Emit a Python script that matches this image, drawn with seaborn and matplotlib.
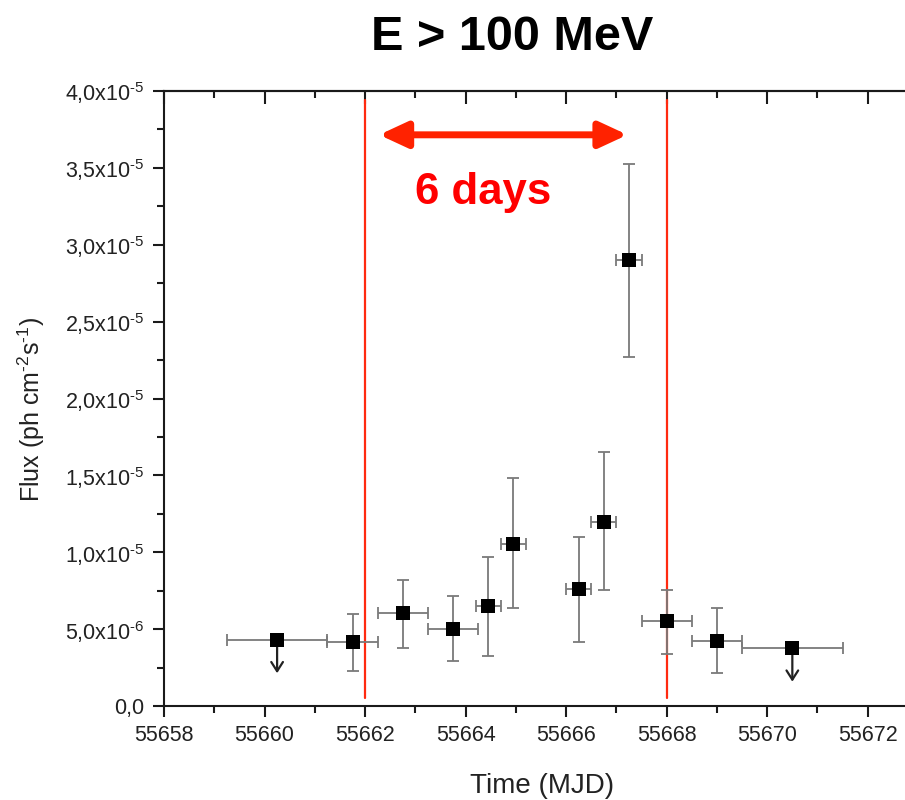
import numpy as np
import pandas as pd
import matplotlib
matplotlib.use("Agg")
import matplotlib.pyplot as plt
import seaborn as sns
from matplotlib.ticker import MultipleLocator, FixedLocator

# ---------------- data ----------------
time = [55660.25, 55661.75, 55662.75, 55663.75, 55664.45, 55664.95,
        55666.25, 55666.75, 55667.25, 55668.0, 55669.0, 55670.5]
flux = [4.3e-6, 4.15e-6, 6.05e-6, 5.0e-6, 6.5e-6, 1.055e-5,
        7.6e-6, 1.2e-5, 2.9e-5, 5.5e-6, 4.2e-6, 3.75e-6]
time_err = [1.0, 0.5, 0.5, 0.5, 0.25, 0.25, 0.25, 0.25, 0.25, 0.5, 0.5, 1.0]
flux_hi = [np.nan, 6.0e-6, 8.2e-6, 7.15e-6, 9.7e-6, 1.48e-5,
           1.10e-5, 1.65e-5, 3.525e-5, 7.55e-6, 6.35e-6, np.nan]
flux_lo = [np.nan, 2.3e-6, 3.75e-6, 2.95e-6, 3.25e-6, 6.35e-6,
           4.15e-6, 7.55e-6, 2.27e-5, 3.4e-6, 2.15e-6, np.nan]
upper_limit = [True, False, False, False, False, False,
               False, False, False, False, False, True]

window_start, window_end = 55662.0, 55668.0
window_ymin, window_ymax = 0.05e-5, 3.94e-5
arrow_x = [55662.28, 55667.22]
arrow_y = 3.715e-5
arrow_label = "6 days"
label_pos = (55664.35, 3.34e-5)

title = "E > 100 MeV"
xlabel = "Time (MJD)"
ylabel = "Flux (ph cm$^{\u2010 2}$s$^{\u2010 1}$)"
ytick_vals = [0, 5e-6, 1e-5, 1.5e-5, 2e-5, 2.5e-5, 3e-5, 3.5e-5, 4e-5]
ytick_labels = ["0,0", "5,0x10$^{\u20106}$", "1,0x10$^{\u20105}$", "1,5x10$^{\u20105}$",
                "2,0x10$^{\u20105}$", "2,5x10$^{\u20105}$", "3,0x10$^{\u20105}$",
                "3,5x10$^{\u20105}$", "4,0x10$^{\u20105}$"]
xticks = [55658, 55660, 55662, 55664, 55666, 55668, 55670, 55672]

df = pd.DataFrame(dict(time=time, flux=flux, terr=time_err,
                       hi=flux_hi, lo=flux_lo, ul=upper_limit))

# ---------------- style ----------------
sns.set_theme(style="white")
plt.rcParams["font.family"] = ["Liberation Sans", "DejaVu Sans"]
plt.rcParams["mathtext.fontset"] = "custom"
plt.rcParams["mathtext.rm"] = "Liberation Sans"
plt.rcParams["mathtext.it"] = "Liberation Sans:italic"
plt.rcParams["mathtext.bf"] = "Liberation Sans:bold"

fig = plt.figure(figsize=(9.05, 8.0), dpi=100)
ax = fig.add_axes([164 / 905, 1 - 706 / 800, (918 - 164) / 905, (706 - 91) / 800])

# error bars
ecol = "#7a7a7a"
det = df[~df.ul]
ax.errorbar(det.time, det.flux, xerr=det.terr,
            yerr=[det.flux - det.lo, det.hi - det.flux],
            fmt="none", ecolor=ecol, elinewidth=1.3, capsize=4, capthick=1.3, zorder=2)
ul = df[df.ul]
ax.errorbar(ul.time, ul.flux, xerr=ul.terr, fmt="none", ecolor=ecol,
            elinewidth=1.3, capsize=4, capthick=1.3, zorder=2)
for _, r in ul.iterrows():
    ax.annotate("", xy=(r.time, r.flux - 2.35e-6), xytext=(r.time, r.flux),
                arrowprops=dict(arrowstyle="->,head_length=0.55,head_width=0.35",
                                color="#222222", lw=1.6), zorder=3)

sns.scatterplot(data=df, x="time", y="flux", marker="s", s=115, color="black",
                edgecolor="black", linewidth=0, ax=ax, zorder=4)

# window lines
red = "#ff2a10"
for xv in (window_start, window_end):
    ax.plot([xv, xv], [window_ymin, window_ymax], color=red, lw=1.6, zorder=1)

ax.annotate("", xy=(arrow_x[0], arrow_y), xytext=(arrow_x[1], arrow_y),
            arrowprops=dict(arrowstyle="<|-|>,head_length=1.4,head_width=0.65",
                            color="#ff2200", lw=5, shrinkA=0, shrinkB=0))
ax.text(label_pos[0], label_pos[1], arrow_label, color="#ff0000", fontsize=31.5,
        fontweight="bold", ha="center", va="center")

# axes
ax.set_xlim(55658, 55673)
ax.set_ylim(0, 4e-5)
ax.xaxis.set_major_locator(FixedLocator(xticks))
ax.xaxis.set_minor_locator(MultipleLocator(1))
ax.yaxis.set_major_locator(FixedLocator(ytick_vals))
ax.set_yticklabels(ytick_labels)
ax.yaxis.set_minor_locator(MultipleLocator(2.5e-6))
ax.set_xticklabels([str(t) for t in xticks])

spcol = "#1a1a1a"
for s in ax.spines.values():
    s.set_color(spcol)
    s.set_linewidth(1.5)
ax.tick_params(axis="both", which="major", direction="out", length=8, width=1.5,
               color=spcol, labelsize=15.5, labelcolor="#222222", pad=6)
ax.tick_params(axis="both", which="minor", direction="out", length=5, width=1.5,
               color=spcol)
ax.tick_params(bottom=True, left=True, which="both")

top = ax.secondary_xaxis("top")
top.xaxis.set_major_locator(FixedLocator(xticks))
top.xaxis.set_minor_locator(MultipleLocator(1))
top.tick_params(which="major", direction="in", length=9, width=1.5, color=spcol, labeltop=False)
top.tick_params(which="minor", direction="in", length=5, width=1.5, color=spcol)
top.spines["top"].set_linewidth(1.5)
top.spines["top"].set_color(spcol)

ax.set_xlabel(xlabel, fontsize=20, color="#222222")
ax.set_ylabel(ylabel, fontsize=18, color="#222222")
ax.xaxis.set_label_coords((542 - 164) / (918 - 164), -(773 - 706) / (706 - 91))
ax.yaxis.set_label_coords(-(164 - 47) / (918 - 164), (706 - 410) / (706 - 91))

fig.text(512 / 905, 1 - 38 / 800, title, fontsize=35, fontweight="bold",
         ha="center", va="center", color="black")

fig.savefig("out.png", dpi=100, facecolor="white")
